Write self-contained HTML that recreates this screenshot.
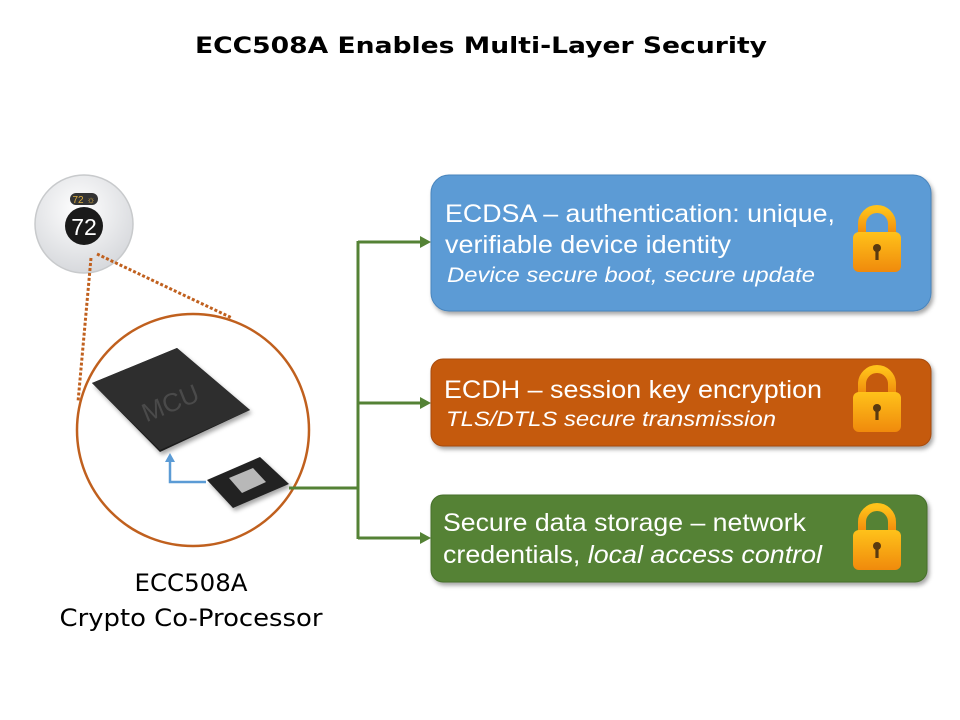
<!DOCTYPE html>
<html><head><meta charset="utf-8"><style>
html,body{margin:0;padding:0;background:#fff;}
svg{display:block;}
</style></head><body>
<svg width="960" height="720" viewBox="0 0 960 720" xmlns="http://www.w3.org/2000/svg" font-family="Liberation Sans, sans-serif">
<defs>
<linearGradient id="lk" x1="0" y1="0" x2="0" y2="1"><stop offset="0" stop-color="#ffc21a"/><stop offset="1" stop-color="#f08a0c"/></linearGradient>
<radialGradient id="th" cx="0.45" cy="0.35" r="0.7"><stop offset="0" stop-color="#ffffff"/><stop offset="1" stop-color="#d4d6da"/></radialGradient>
<filter id="sh" x="-10%" y="-10%" width="130%" height="130%"><feDropShadow dx="2" dy="3" stdDeviation="2" flood-color="#000" flood-opacity="0.35"/></filter>
<g id="lock">
<path d="M-15,-6 V-16 A15,15 0 0 1 15,-16 V-6" fill="none" stroke="url(#lk)" stroke-width="8"/>
<rect x="-24" y="-8" width="48" height="40" rx="6" fill="url(#lk)"/>
<circle cx="0" cy="8" r="4" fill="#5a3a10"/><rect x="-1.6" y="8" width="3.2" height="12" fill="#5a3a10"/>
</g>
</defs>
<text x="195" y="53" font-family="DejaVu Sans, sans-serif" font-size="22" font-weight="bold" fill="#000" textLength="572" lengthAdjust="spacingAndGlyphs">ECC508A Enables Multi-Layer Security</text>

<!-- thermostat -->
<circle cx="84" cy="224" r="49" fill="url(#th)" stroke="#c8cacc" stroke-width="1.5"/>
<rect x="70" y="193" width="28" height="12" rx="6" fill="#333"/>
<text x="84" y="203" text-anchor="middle" font-size="10" fill="#e0b040">72 ☼</text>
<circle cx="84" cy="226" r="19" fill="#1a1a1a"/>
<text x="84" y="235" text-anchor="middle" font-size="23" fill="#fff">72</text>

<!-- dotted lines -->
<line x1="91" y1="258" x2="78" y2="402" stroke="#c0601e" stroke-width="3" stroke-dasharray="3,2"/>
<line x1="97" y1="254" x2="232" y2="318" stroke="#c0601e" stroke-width="3" stroke-dasharray="3,2"/>

<circle cx="193" cy="430" r="116" fill="none" stroke="#c0601e" stroke-width="2.5"/>

<!-- MCU chip -->
<polygon points="92,383 177,348 250,410 160,452" fill="#1c1c1c" filter="url(#sh)"/>
<polygon points="92,383 177,348 250,410 160,450" fill="#2e2e2e"/>
<text x="170" y="412" text-anchor="middle" font-size="26" fill="#4a4a4a" transform="rotate(-22 170 402)">MCU</text>

<!-- small chip -->
<polygon points="207,480 260,457 289,484 233,508" fill="#222" filter="url(#sh)"/>
<polygon points="229,478 253,468 266,482 242,493" fill="#b8b8b8"/>

<!-- blue arrow -->
<polyline points="206,482 170,482 170,460" fill="none" stroke="#5b9bd5" stroke-width="2.5"/>
<polygon points="165,462 175,462 170,453" fill="#5b9bd5"/>

<!-- green connectors -->
<g stroke="#548235" stroke-width="3" fill="none">
<line x1="289" y1="488" x2="358" y2="488"/>
<line x1="358" y1="241" x2="358" y2="539"/>
<line x1="358" y1="242" x2="423" y2="242"/>
<line x1="358" y1="403" x2="423" y2="403"/>
<line x1="358" y1="538" x2="423" y2="538"/>
</g>
<g fill="#548235">
<polygon points="420,236 431,242 420,248"/>
<polygon points="420,397 431,403 420,409"/>
<polygon points="420,532 431,538 420,544"/>
</g>

<!-- boxes -->
<rect x="431" y="175" width="500" height="136" rx="18" fill="#5b9bd5" stroke="#4a85bd" filter="url(#sh)"/>
<rect x="431" y="359" width="500" height="87" rx="12" fill="#c55a11" stroke="#a84c0e" filter="url(#sh)"/>
<rect x="431" y="495" width="496" height="87" rx="12" fill="#548235" stroke="#466f2c" filter="url(#sh)"/>

<g fill="#fff" font-size="25" lengthAdjust="spacingAndGlyphs">
<text x="445" y="222" textLength="390" lengthAdjust="spacingAndGlyphs">ECDSA – authentication: unique,</text>
<text x="445" y="253" textLength="286" lengthAdjust="spacingAndGlyphs">verifiable device identity</text>
<text x="447" y="282" font-size="21" font-style="italic" textLength="368" lengthAdjust="spacingAndGlyphs">Device secure boot, secure update</text>
<text x="444" y="398" textLength="378" lengthAdjust="spacingAndGlyphs">ECDH – session key encryption</text>
<text x="446" y="426" font-size="21" font-style="italic" textLength="330" lengthAdjust="spacingAndGlyphs">TLS/DTLS secure transmission</text>
<text x="443" y="531" textLength="363" lengthAdjust="spacingAndGlyphs">Secure data storage – network</text>
<text x="443" y="563" textLength="379" lengthAdjust="spacingAndGlyphs">credentials, <tspan font-style="italic">local access control</tspan></text>
</g>

<use href="#lock" x="877" y="240"/>
<use href="#lock" x="877" y="400"/>
<use href="#lock" x="877" y="538"/>

<text x="191" y="591" text-anchor="middle" font-family="DejaVu Sans, sans-serif" font-size="24" fill="#000" textLength="113" lengthAdjust="spacingAndGlyphs">ECC508A</text>
<text x="191" y="626" text-anchor="middle" font-family="DejaVu Sans, sans-serif" font-size="24" fill="#000" textLength="263" lengthAdjust="spacingAndGlyphs">Crypto Co-Processor</text>
</svg>
</body></html>
